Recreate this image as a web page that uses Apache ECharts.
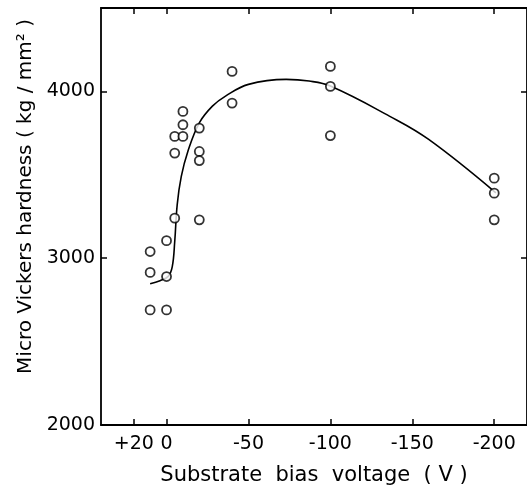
<!DOCTYPE html>
<html>
<head>
<meta charset="utf-8">
<script src="https://cdn.jsdelivr.net/npm/echarts@6/dist/echarts.min.js"></script>
<style>
  html, body { margin: 0; padding: 0; background: #fff; }
  #chart { width: 527px; height: 497px; }
</style>
</head>
<body>
<div id="chart"></div>
<script>
// x ticks (bias voltage, V) and labels
const biasTicks = [20, 0, -50, -100, -150, -200];
const biasTickLabels = ["+20", "0", "-50", "-100", "-150", "-200"];
const hardnessTicks = [2000, 3000, 4000];

// measured points
const measuredBias = [-10, -10, -5, -10, -20, -5, -20, -20, -40, -40, -5, -20, 0, 10, 10, 0, 10, 0, -100, -100, -100, -200, -200, -200];
const measuredHardness = [3880, 3800, 3730, 3730, 3780, 3630, 3640, 3585, 3930, 4120, 3240, 3230, 3105, 3040, 2915, 2890, 2690, 2690, 4150, 4030, 3735, 3480, 3390, 3230];

// hand-drawn trend curve
const curveBias = [10, 4, -1, -3.5, -5, -6.5, -9, -13, -20, -28, -36, -50, -73, -87, -100, -136, -160, -201];
const curveHardness = [2847, 2865, 2891, 2950, 3100, 3320, 3490, 3640, 3812, 3912, 3972, 4042, 4072, 4062, 4032, 3852, 3712, 3392];

const chart = echarts.init(document.getElementById("chart"));

const font = "DejaVu Sans";
const axisLine = { show: true, onZero: false, lineStyle: { color: "#000", width: 1.8 } };
const tickStyle = { color: "#000", width: 1.5 };

const option = {
  animation: false,
  backgroundColor: "#fff",
  grid: { left: 101, right: 0, top: 8, bottom: 72 },
  xAxis: [
    {
      type: "value",
      min: -220,
      max: 40,
      inverse: true,
      position: "bottom",
      name: "Substrate  bias  voltage  ( V )",
      nameLocation: "middle",
      nameGap: 40,
      nameTextStyle: { fontFamily: font, fontSize: 21, color: "#000" },
      axisLine: axisLine,
      axisTick: { show: true, inside: true, length: 6, customValues: biasTicks, lineStyle: tickStyle },
      axisLabel: {
        customValues: biasTicks,
        margin: 10,
        fontFamily: font,
        fontSize: 19,
        color: "#000",
        formatter: (v) => biasTickLabels[biasTicks.indexOf(v)]
      },
      splitLine: { show: false }
    },
    {
      type: "value",
      min: -220,
      max: 40,
      inverse: true,
      position: "top",
      axisLine: axisLine,
      axisTick: { show: true, inside: true, length: 6, customValues: biasTicks, lineStyle: tickStyle },
      axisLabel: { show: false },
      splitLine: { show: false }
    }
  ],
  yAxis: [
    {
      type: "value",
      min: 2000,
      max: 4500,
      interval: 1000,
      position: "left",
      name: "Micro Vickers hardness ( kg / mm² )",
      nameLocation: "middle",
      nameGap: 64,
      nameTextStyle: { fontFamily: font, fontSize: 20, color: "#000", padding: [0, 0, 0, 40] },
      axisLine: axisLine,
      axisTick: { show: true, inside: true, length: 6, customValues: hardnessTicks, lineStyle: tickStyle },
      axisLabel: {
        customValues: hardnessTicks,
        margin: 6,
        fontFamily: font,
        fontSize: 19,
        color: "#000",
        formatter: (v) => String(v)
      },
      splitLine: { show: false }
    },
    {
      type: "value",
      min: 2000,
      max: 4500,
      interval: 1000,
      position: "right",
      axisLine: axisLine,
      axisTick: { show: true, inside: true, length: 6, customValues: hardnessTicks, lineStyle: tickStyle },
      axisLabel: { show: false },
      splitLine: { show: false }
    }
  ],
  series: [
    {
      type: "line",
      data: curveBias.map((v, i) => [v, curveHardness[i]]),
      smooth: 0.4,
      symbol: "none",
      lineStyle: { color: "#000", width: 1.6 },
      z: 2
    },
    {
      type: "scatter",
      data: measuredBias.map((v, i) => [v, measuredHardness[i]]),
      symbol: "circle",
      symbolSize: 9,
      itemStyle: { color: "#fff", borderColor: "#000", borderWidth: 1.8 },
      z: 3
    }
  ]
};

chart.setOption(option);
</script>
</body>
</html>
